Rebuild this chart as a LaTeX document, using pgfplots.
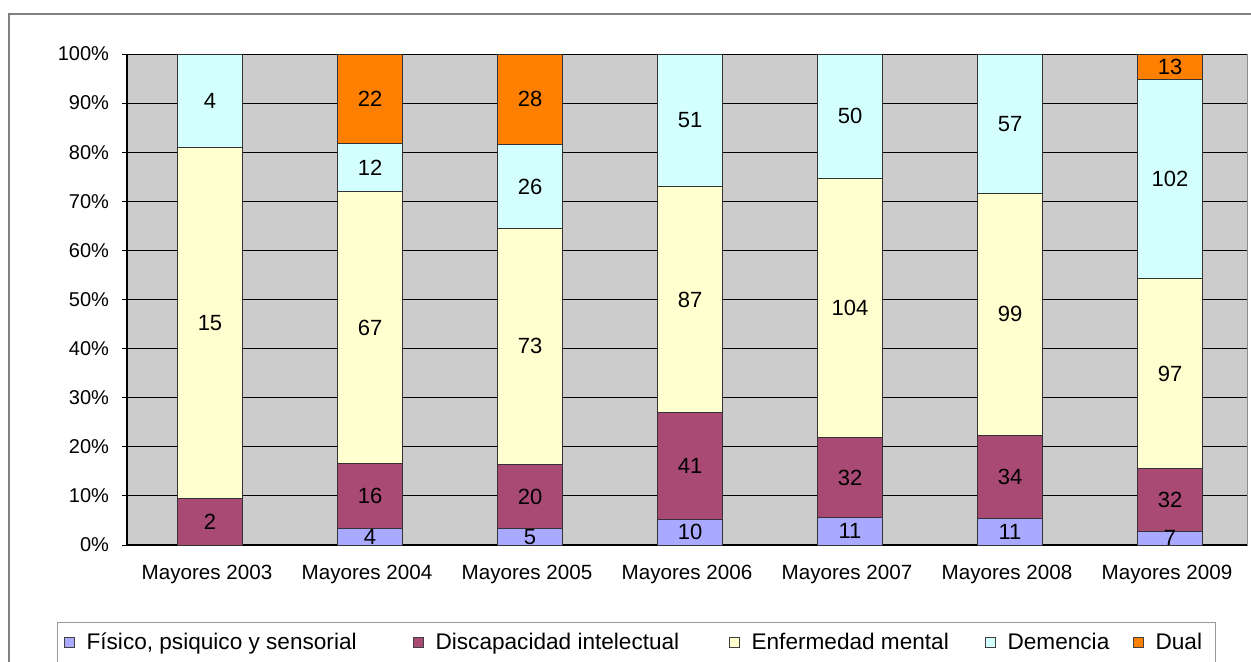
\documentclass[border=0pt]{standalone}
\usepackage{fontspec}
\setmainfont{Liberation Sans}
\usepackage{pgfplots}
\usepackage{pgfplotstable}
\pgfplotsset{compat=1.18}

\definecolor{cF}{RGB}{169,169,255}
\definecolor{cD}{RGB}{168,74,116}
\definecolor{cE}{RGB}{255,255,208}
\definecolor{cDem}{RGB}{212,255,255}
\definecolor{cDual}{RGB}{255,128,0}
\definecolor{bgc}{RGB}{204,204,204}

\pgfplotstableread{
x F D E Dem Dual
0 0 2 15 4 0
1 4 16 67 12 22
2 5 20 73 26 28
3 10 41 87 51 0
4 11 32 104 50 0
5 11 34 99 57 0
6 7 32 97 102 13
}\data
\pgfplotstablecreatecol[create col/expr={\thisrow{F}+\thisrow{D}+\thisrow{E}+\thisrow{Dem}+\thisrow{Dual}}]{T}{\data}
\pgfplotstablecreatecol[create col/expr={100*\thisrow{F}/\thisrow{T}}]{pF}{\data}
\pgfplotstablecreatecol[create col/expr={100*\thisrow{D}/\thisrow{T}}]{pD}{\data}
\pgfplotstablecreatecol[create col/expr={100*\thisrow{E}/\thisrow{T}}]{pE}{\data}
\pgfplotstablecreatecol[create col/expr={100*\thisrow{Dem}/\thisrow{T}}]{pDem}{\data}
\pgfplotstablecreatecol[create col/expr={100*\thisrow{Dual}/\thisrow{T}}]{pDual}{\data}
\pgfplotstablecreatecol[create col/expr={\thisrow{pF}/2}]{mF}{\data}
\pgfplotstablecreatecol[create col/expr={\thisrow{pF}+\thisrow{pD}/2}]{mD}{\data}
\pgfplotstablecreatecol[create col/expr={\thisrow{pF}+\thisrow{pD}+\thisrow{pE}/2}]{mE}{\data}
\pgfplotstablecreatecol[create col/expr={\thisrow{pF}+\thisrow{pD}+\thisrow{pE}+\thisrow{pDem}/2}]{mDem}{\data}
\pgfplotstablecreatecol[create col/expr={100-\thisrow{pDual}/2}]{mDual}{\data}

\begin{document}
\begin{tikzpicture}
\useasboundingbox (0,0) rectangle (625.5pt,330.5pt);
\begin{axis}[
  at={(63.5pt,58pt)}, anchor=south west,
  width=560pt, height=245.5pt, scale only axis,
  xmin=-0.5, xmax=6.5, ymin=0, ymax=100,
  ybar stacked, bar width=32.5pt,
  axis background/.style={fill=bgc, draw=gray!90},
  axis x line*=bottom, axis y line*=left,
  axis line style={black, line width=0.6pt, -},
  ymajorgrids, major grid style={black, line width=0.45pt},
  ytick={0,10,...,100},
  yticklabel={\pgfmathprintnumber{\tick}\%},
  xtick={0,...,6},
  xticklabels={Mayores 2003,Mayores 2004,Mayores 2005,Mayores 2006,Mayores 2007,Mayores 2008,Mayores 2009},
  x tick style={draw=none},
  extra x ticks={-0.5,0.5,1.5,2.5,3.5,4.5,5.5,6.5},
  extra x tick labels={},
  extra x tick style={tick style={draw=black, line width=0.5pt}},
  y tick style={black, line width=0.5pt},
  tick align=outside, major tick length=2.5pt,
  /pgf/number format/assume math mode=true,
  yticklabel style={font=\fontsize{10}{12}\selectfont, xshift=-3pt},
  xticklabel style={font=\fontsize{10.3}{12}\selectfont, yshift=-4pt},
  every axis plot/.append style={draw=black!80, line width=0.5pt, bar shift=1.5pt},
  legend image code/.code={\draw[#1, draw=black!75, line width=0.5pt] (0pt,-2.5pt) rectangle (5pt,2.5pt);},
  legend columns=5,
  legend style={at={(axis description cs:-0.0625,-0.1568)}, anchor=north west,
    draw=gray!80, line width=0.6pt, fill=white,
    inner xsep=3pt, inner ysep=4pt,
    font=\fontsize{11.3}{13}\selectfont,
    nodes={inner xsep=0pt, inner ysep=1pt},
    column sep=0pt},
]
\addplot[fill=cF] table[x=x, y=pF] {\data};
\addlegendentry{\hspace{6pt}\makebox[163pt][l]{Físico, psiquico y sensorial}}
\addplot[fill=cD] table[x=x, y=pD] {\data};
\addlegendentry{\hspace{6pt}\makebox[146.5pt][l]{Discapacidad intelectual}}
\addplot[fill=cE] table[x=x, y=pE] {\data};
\addlegendentry{\hspace{6pt}\makebox[116.5pt][l]{Enfermedad mental}}
\addplot[fill=cDem] table[x=x, y=pDem] {\data};
\addlegendentry{\hspace{6pt}\makebox[62.5pt][l]{Demencia}}
\addplot[fill=cDual] table[x=x, y=pDual] {\data};
\addlegendentry{\hspace{6pt}\makebox[27pt][l]{Dual}}
\end{axis}
\begin{axis}[
  at={(63.5pt,58pt)}, anchor=south west,
  width=560pt, height=245.5pt, scale only axis,
  xmin=-0.5, xmax=6.5, ymin=0, ymax=100,
  hide axis,
  /pgf/number format/assume math mode=true,
  nodes near coords={\pgfmathfloatifflags{\pgfplotspointmeta}{0}{}{\pgfmathprintnumber{\pgfplotspointmeta}}},
  every node near coord/.append style={anchor=center, font=\fontsize{11}{13}\selectfont, inner sep=0pt, xshift=1.5pt},
]
\addplot[draw=none, mark=none, point meta=explicit] table[x=x, y=mF, meta=F] {\data};
\addplot[draw=none, mark=none, point meta=explicit] table[x=x, y=mD, meta=D] {\data};
\addplot[draw=none, mark=none, point meta=explicit] table[x=x, y=mE, meta=E] {\data};
\addplot[draw=none, mark=none, point meta=explicit] table[x=x, y=mDem, meta=Dem] {\data};
\addplot[draw=none, mark=none, point meta=explicit] table[x=x, y=mDual, meta=Dual] {\data};
\end{axis}
\draw[gray, line width=0.7pt] (4.5pt,-10pt) -- (4.5pt,323.5pt) -- (640pt,323.5pt);
\end{tikzpicture}
\end{document}
